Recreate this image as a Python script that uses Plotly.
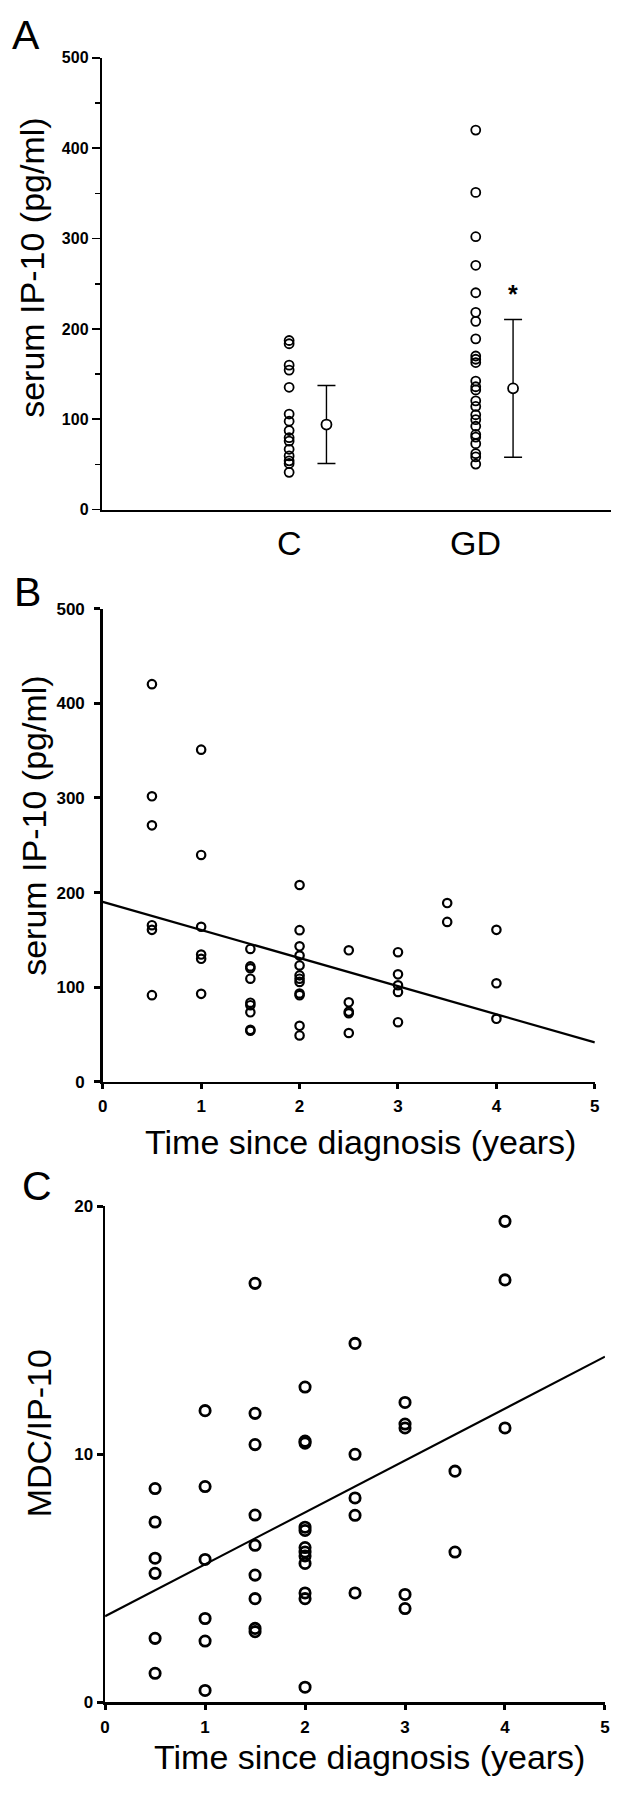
import plotly.graph_objects as go

W, H = 633, 1800
FONT = "Liberation Sans, Arial, Helvetica, sans-serif"

# ---------------- Panel A data ----------------
categories = ["C", "GD"]
c_values = [187.2, 183.6, 159.9, 154.4, 135.4, 105.8, 97.8, 87.6, 79.6, 75.9,
            66.8, 59.5, 54.0, 51.1, 41.3]
gd_values = [420, 351, 302, 270.4, 240, 218.3, 208.4, 189, 170, 166.4, 162.8,
             142.3, 136, 132.5, 120.4, 114.2, 105, 99.6, 92.3, 83.2, 80.3, 73,
             62, 58.4, 50.4]
group_means = [94.2, 134.2]
group_sd = [43.2, 76.2]
significance = ["", "*"]
a_yticks = [0, 100, 200, 300, 400, 500]
a_minor_ticks = [50, 150, 250, 350, 450]

# ---------------- Panel B data ----------------
b_years = [0.5, 0.5, 0.5, 0.5, 0.5, 0.5,
           1, 1, 1, 1, 1, 1,
           1.5, 1.5, 1.5, 1.5, 1.5, 1.5, 1.5, 1.5, 1.5,
           2, 2, 2, 2, 2, 2, 2, 2, 2, 2, 2, 2,
           2.5, 2.5, 2.5, 2.5, 2.5,
           3, 3, 3, 3, 3,
           3.5, 3.5,
           4, 4, 4]
b_ip10 = [420.2, 301.7, 271.0, 165.5, 160.6, 91.6,
          351.0, 239.7, 163.8, 134.5, 130.0, 93.0,
          140.4, 122.0, 120.0, 109.0, 83.6, 81.0, 73.5, 55.0, 54.0,
          208.0, 160.3, 143.2, 133.4, 123.0, 112.5, 109.0, 105.6, 93.4, 91.6, 59.2, 49.0,
          139.0, 84.0, 74.2, 72.5, 51.6,
          137.0, 113.6, 102.0, 95.0, 63.0,
          188.9, 169.0,
          160.6, 104.2, 66.6]
b_fit_intercept, b_fit_slope = 190.2, -29.7

# ---------------- Panel C data ----------------
c_years = [0.5, 0.5, 0.5, 0.5, 0.5, 0.5,
           1, 1, 1, 1, 1, 1,
           1.5, 1.5, 1.5, 1.5, 1.5, 1.5, 1.5, 1.5, 1.5,
           2, 2, 2, 2, 2, 2, 2, 2, 2, 2, 2, 2,
           2.5, 2.5, 2.5, 2.5, 2.5,
           3, 3, 3, 3, 3,
           3.5, 3.5,
           4, 4, 4]
c_ratio = [8.62, 7.27, 5.81, 5.20, 2.58, 1.17,
           11.76, 8.70, 5.76, 3.38, 2.47, 0.48,
           16.89, 11.65, 10.39, 7.55, 6.33, 5.13, 4.18, 2.98, 2.85,
           12.71, 10.53, 10.45, 7.06, 6.93, 6.24, 6.06, 5.90, 5.60, 4.41, 4.18, 0.61,
           14.47, 10.00, 8.24, 7.54, 4.41,
           12.09, 11.22, 11.06, 4.35, 3.78,
           9.32, 6.06,
           19.39, 17.03, 11.06]
c_fit_intercept, c_fit_slope = 3.47, 2.093

year_ticks = [0, 1, 2, 3, 4, 5]
b_yticks = [0, 100, 200, 300, 400, 500]
c_yticks = [0, 10, 20]
fit_x = [0, 5]


def px(x):
    return x / W


def py(y):
    return 1 - y / H


fig = go.Figure()

# Panel A scatter columns
fig.add_trace(go.Scatter(
    x=[0] * len(c_values), y=c_values, mode="markers", xaxis="x", yaxis="y",
    marker=dict(symbol="circle-open", size=9, color="black", line=dict(width=1.8)),
    showlegend=False))
fig.add_trace(go.Scatter(
    x=[1] * len(gd_values), y=gd_values, mode="markers", xaxis="x", yaxis="y",
    marker=dict(symbol="circle-open", size=9, color="black", line=dict(width=1.8)),
    showlegend=False))
fig.add_trace(go.Scatter(
    x=[i + 0.2 for i in range(len(categories))], y=group_means, mode="markers",
    xaxis="x", yaxis="y",
    error_y=dict(type="data", array=group_sd, visible=True, color="black",
                 thickness=1.4, width=9),
    marker=dict(symbol="circle", size=10, color="white",
                line=dict(color="black", width=1.8)),
    showlegend=False))

# Panel B
fig.add_trace(go.Scatter(
    x=b_years, y=b_ip10, mode="markers", xaxis="x2", yaxis="y2",
    marker=dict(symbol="circle-open", size=8.4, color="black", line=dict(width=2.2)),
    showlegend=False))
fig.add_trace(go.Scatter(
    x=fit_x, y=[b_fit_intercept + b_fit_slope * v for v in fit_x], mode="lines",
    xaxis="x2", yaxis="y2", line=dict(color="black", width=2.3), showlegend=False))

# Panel C
fig.add_trace(go.Scatter(
    x=c_years, y=c_ratio, mode="markers", xaxis="x3", yaxis="y3",
    marker=dict(symbol="circle-open", size=10.3, color="black", line=dict(width=2.8)),
    showlegend=False))
fig.add_trace(go.Scatter(
    x=fit_x, y=[c_fit_intercept + c_fit_slope * v for v in fit_x], mode="lines",
    xaxis="x3", yaxis="y3", line=dict(color="black", width=2.1), showlegend=False))


def bold_tick(s):
    return dict(family=FONT, size=s, color="black", weight="bold")


common = dict(showgrid=False, zeroline=False, showline=True, linecolor="black")

# A axes geometry (pixels)
a_left, a_right = 98.3, 616.0
c_pos, gd_pos = 288.7, 478.3
unit = gd_pos - c_pos
a_range = [-(c_pos - a_left) / unit, 1 + (a_right - gd_pos) / unit]

fig.update_layout(
    width=W, height=H, autosize=False,
    margin=dict(l=0, r=0, t=0, b=0),
    paper_bgcolor="white", plot_bgcolor="white",
    font=dict(family=FONT, color="black"),
    hovermode=False,
    xaxis=dict(domain=[px(a_left), px(a_right)], range=a_range, anchor="y",
               tickmode="array", tickvals=list(range(len(categories))),
               showticklabels=False, ticks="", linewidth=2.2, **common),
    yaxis=dict(domain=[py(506), py(49.3)], range=[0, 500], anchor="x",
               tickmode="array", tickvals=a_yticks, ticks="outside", ticklen=8,
               tickwidth=1.6, tickcolor="black", linewidth=2,
               minor=dict(tickmode="array", tickvals=a_minor_ticks, ticks="outside",
                          ticklen=5, tickwidth=1.6, tickcolor="black"),
               tickfont=bold_tick(16), **common),
    xaxis2=dict(domain=[px(99.3), px(599.3)], range=[0, 5], anchor="y2",
                tickmode="array", tickvals=year_ticks, ticks="outside", ticklen=5,
                tickwidth=3, tickcolor="black", linewidth=2.5,
                tickfont=bold_tick(17), ticklabelstandoff=2, **common),
    yaxis2=dict(domain=[py(1084.3), py(606)], range=[0, 500], anchor="x2",
                tickmode="array", tickvals=b_yticks, ticks="outside", ticklen=6,
                tickwidth=3, tickcolor="black", linewidth=2.5,
                tickfont=bold_tick(17), ticklabelstandoff=6, **common),
    xaxis3=dict(domain=[px(101.7), px(609.6)], range=[0, 5], anchor="y3",
                tickmode="array", tickvals=year_ticks, ticks="outside", ticklen=5,
                tickwidth=3, tickcolor="black", linewidth=2.5,
                tickfont=bold_tick(17), ticklabelstandoff=3, **common),
    yaxis3=dict(domain=[py(1711.4), py(1210)], range=[0, 20], anchor="x3",
                tickmode="array", tickvals=c_yticks, ticks="outside", ticklen=6,
                tickwidth=3, tickcolor="black", linewidth=2.5,
                tickfont=bold_tick(17), **common),
)

ann = []
# Category labels for panel A
for i, cat in enumerate(categories):
    ann.append(dict(text=cat, xref="x", yref="paper", x=i, y=py(540),
                    xanchor="center", yanchor="middle", showarrow=False,
                    font=dict(family=FONT, size=34, color="black")))
# Panel letters
for letter, x0, yc in [("A", 5, 26), ("B", 7, 589.5), ("C", 15, 1189.5)]:
    ann.append(dict(text=letter, xref="paper", yref="paper", x=px(x0), y=py(yc),
                    xanchor="left", yanchor="middle", showarrow=False,
                    font=dict(family=FONT, size=41, color="black")))
# Y titles
for txt, xc, yc in [("serum IP-10 (pg/ml)", 28, 262), ("serum IP-10 (pg/ml)", 30, 826),
                    ("MDC/IP-10", 34, 1439)]:
    ann.append(dict(text=txt, xref="paper", yref="paper", x=px(xc), y=py(yc),
                    xanchor="center", yanchor="middle", textangle=-90, showarrow=False,
                    font=dict(family=FONT, size=34, color="black")))
# X titles
for xc, yc in [(361, 1145), (370, 1767)]:
    ann.append(dict(text="Time since diagnosis (years)", xref="paper", yref="paper",
                    x=px(xc), y=py(yc), xanchor="center", yanchor="middle",
                    showarrow=False, font=dict(family=FONT, size=34, color="black")))
# significance marks
for i, mark in enumerate(significance):
    if mark:
        ann.append(dict(text=mark, xref="x", yref="y", x=i + 0.2, y=239,
                        xanchor="center", yanchor="middle", showarrow=False,
                        font=dict(family=FONT, size=25, color="black", weight="bold")))

fig.update_layout(annotations=ann)

fig.write_html(
    "out.html",
    config={"displayModeBar": False, "staticPlot": True},
    post_script="document.body.style.margin='0px';document.body.style.padding='0px';"
                "document.documentElement.style.overflow='hidden';")
